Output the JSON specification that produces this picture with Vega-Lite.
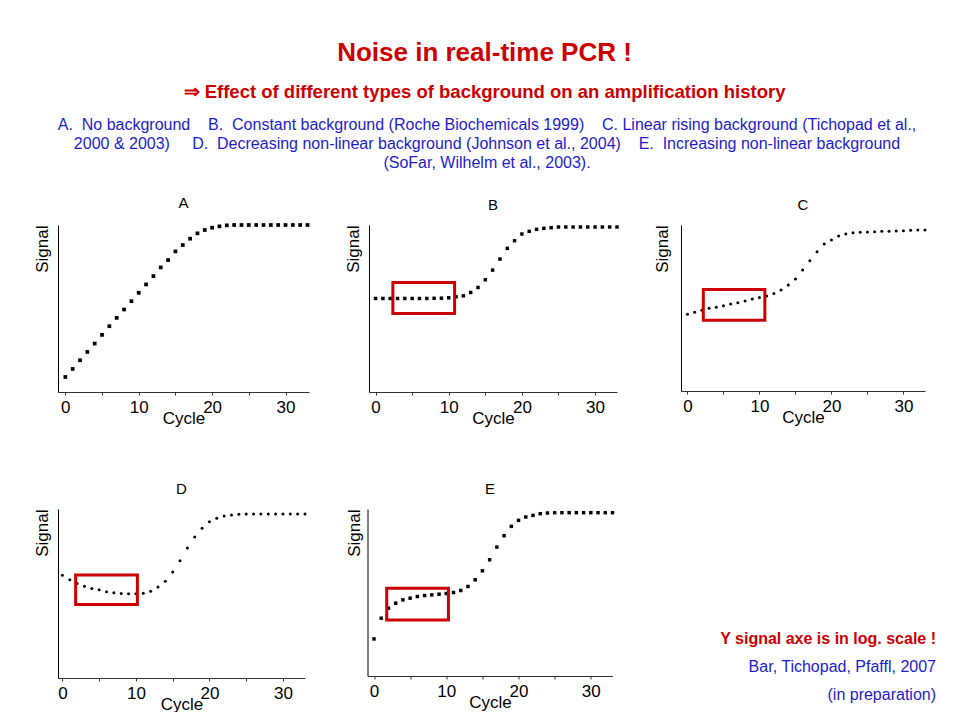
{
  "$schema": "https://vega.github.io/schema/vega-lite/v6.json",
  "padding": {"left": 32, "top": 39, "right": 0, "bottom": 0},
  "background": "white",
  "spacing": 56,
  "title": {
    "text": "Noise in real-time PCR !",
    "subtitle": "⇒ Effect of different types of background on an amplification history",
    "font": "Liberation Sans",
    "fontSize": 26,
    "fontWeight": "bold",
    "color": "#cc0000",
    "subtitleFont": "Liberation Sans",
    "subtitleFontSize": 18.5,
    "subtitleFontWeight": "bold",
    "subtitleColor": "#cc0000",
    "subtitlePadding": 17,
    "anchor": "middle",
    "offset": 14
  },
  "datasets": {
    "header": [
      {"line": 1, "text": "A.\u00a0 No background\u00a0\u00a0\u00a0 B.\u00a0 Constant background (Roche Biochemicals 1999)\u00a0\u00a0\u00a0 C. Linear rising background (Tichopad et al.,"},
      {"line": 2, "text": "2000 & 2003)\u00a0\u00a0\u00a0\u00a0 D.\u00a0 Decreasing non-linear background (Johnson et al., 2004)\u00a0\u00a0\u00a0 E.\u00a0 Increasing non-linear background"},
      {"line": 3, "text": "(SoFar, Wilhelm et al., 2003)."}
    ],
    "footer": [
      {"line": 1, "kind": "note", "text": "Y signal axe is in log. scale !"},
      {"line": 2, "kind": "ref", "text": "Bar, Tichopad, Pfaffl, 2007"},
      {"line": 3, "kind": "ref", "text": "(in preparation)"}
    ],
    "boxes": [
      {"panel": "B", "c1": 2.36, "c2": 10.8, "s1": 47, "s2": 65.6},
      {"panel": "C", "c1": 2.2, "c2": 10.75, "s1": 42.6, "s2": 61.2},
      {"panel": "D", "c1": 1.8, "c2": 10.2, "s1": 43.5, "s2": 61},
      {"panel": "E", "c1": 1.76, "c2": 10.3, "s1": 33.6, "s2": 52.6}
    ],
    "curves": [
      {"panel":"A","cycle":0,"signal":9.0},{"panel":"A","cycle":1,"signal":13.8},{"panel":"A","cycle":2,"signal":19.0},{"panel":"A","cycle":3,"signal":24.0},{"panel":"A","cycle":4,"signal":29.0},{"panel":"A","cycle":5,"signal":34.2},{"panel":"A","cycle":6,"signal":39.4},{"panel":"A","cycle":7,"signal":44.4},{"panel":"A","cycle":8,"signal":49.4},{"panel":"A","cycle":9,"signal":54.4},{"panel":"A","cycle":10,"signal":59.4},{"panel":"A","cycle":11,"signal":64.4},{"panel":"A","cycle":12,"signal":69.4},{"panel":"A","cycle":13,"signal":74.6},{"panel":"A","cycle":14,"signal":79.0},{"panel":"A","cycle":15,"signal":84.2},{"panel":"A","cycle":16,"signal":88.0},{"panel":"A","cycle":17,"signal":91.8},{"panel":"A","cycle":18,"signal":95.0},{"panel":"A","cycle":19,"signal":97.0},{"panel":"A","cycle":20,"signal":98.4},{"panel":"A","cycle":21,"signal":99.2},{"panel":"A","cycle":22,"signal":99.8},{"panel":"A","cycle":23,"signal":100},{"panel":"A","cycle":24,"signal":100},{"panel":"A","cycle":25,"signal":100},{"panel":"A","cycle":26,"signal":100},{"panel":"A","cycle":27,"signal":100},{"panel":"A","cycle":28,"signal":100},{"panel":"A","cycle":29,"signal":100},{"panel":"A","cycle":30,"signal":100},{"panel":"A","cycle":31,"signal":100},{"panel":"A","cycle":32,"signal":100},{"panel":"A","cycle":33,"signal":100},
      {"panel":"B","cycle":0,"signal":56.0},{"panel":"B","cycle":1,"signal":56.0},{"panel":"B","cycle":2,"signal":56.0},{"panel":"B","cycle":3,"signal":56.0},{"panel":"B","cycle":4,"signal":56.0},{"panel":"B","cycle":5,"signal":56.0},{"panel":"B","cycle":6,"signal":56.0},{"panel":"B","cycle":7,"signal":56.0},{"panel":"B","cycle":8,"signal":56.1},{"panel":"B","cycle":9,"signal":56.2},{"panel":"B","cycle":10,"signal":56.4},{"panel":"B","cycle":11,"signal":57.0},{"panel":"B","cycle":12,"signal":57.6},{"panel":"B","cycle":13,"signal":59.6},{"panel":"B","cycle":14,"signal":62.6},{"panel":"B","cycle":15,"signal":67.2},{"panel":"B","cycle":16,"signal":73.0},{"panel":"B","cycle":17,"signal":79.6},{"panel":"B","cycle":18,"signal":86.0},{"panel":"B","cycle":19,"signal":90.6},{"panel":"B","cycle":20,"signal":94.6},{"panel":"B","cycle":21,"signal":96.2},{"panel":"B","cycle":22,"signal":97.4},{"panel":"B","cycle":23,"signal":98.0},{"panel":"B","cycle":24,"signal":98.4},{"panel":"B","cycle":25,"signal":98.8},{"panel":"B","cycle":26,"signal":98.8},{"panel":"B","cycle":27,"signal":98.8},{"panel":"B","cycle":28,"signal":98.8},{"panel":"B","cycle":29,"signal":98.8},{"panel":"B","cycle":30,"signal":98.8},{"panel":"B","cycle":31,"signal":98.8},{"panel":"B","cycle":32,"signal":98.8},{"panel":"B","cycle":33,"signal":98.8},
      {"panel":"C","cycle":0,"signal":46.2},{"panel":"C","cycle":1,"signal":47.4},{"panel":"C","cycle":2,"signal":48.6},{"panel":"C","cycle":3,"signal":49.8},{"panel":"C","cycle":4,"signal":50.4},{"panel":"C","cycle":5,"signal":51.4},{"panel":"C","cycle":6,"signal":52.4},{"panel":"C","cycle":7,"signal":53.2},{"panel":"C","cycle":8,"signal":54.2},{"panel":"C","cycle":9,"signal":55.4},{"panel":"C","cycle":10,"signal":56.4},{"panel":"C","cycle":11,"signal":57.2},{"panel":"C","cycle":12,"signal":58.8},{"panel":"C","cycle":13,"signal":60.8},{"panel":"C","cycle":14,"signal":63.9},{"panel":"C","cycle":15,"signal":67.5},{"panel":"C","cycle":16,"signal":72.9},{"panel":"C","cycle":17,"signal":78.5},{"panel":"C","cycle":18,"signal":83.9},{"panel":"C","cycle":19,"signal":88.6},{"panel":"C","cycle":20,"signal":91.0},{"panel":"C","cycle":21,"signal":93.4},{"panel":"C","cycle":22,"signal":94.6},{"panel":"C","cycle":23,"signal":95.4},{"panel":"C","cycle":24,"signal":95.6},{"panel":"C","cycle":25,"signal":95.8},{"panel":"C","cycle":26,"signal":96.0},{"panel":"C","cycle":27,"signal":96.2},{"panel":"C","cycle":28,"signal":96.2},{"panel":"C","cycle":29,"signal":96.4},{"panel":"C","cycle":30,"signal":96.6},{"panel":"C","cycle":31,"signal":96.8},{"panel":"C","cycle":32,"signal":97.0},{"panel":"C","cycle":33,"signal":97.0},
      {"panel":"D","cycle":0,"signal":60.8},{"panel":"D","cycle":1,"signal":58.2},{"panel":"D","cycle":2,"signal":55.9},{"panel":"D","cycle":3,"signal":54.3},{"panel":"D","cycle":4,"signal":52.9},{"panel":"D","cycle":5,"signal":52.2},{"panel":"D","cycle":6,"signal":51.0},{"panel":"D","cycle":7,"signal":50.4},{"panel":"D","cycle":8,"signal":50.0},{"panel":"D","cycle":9,"signal":49.8},{"panel":"D","cycle":10,"signal":49.8},{"panel":"D","cycle":11,"signal":50.2},{"panel":"D","cycle":12,"signal":51.4},{"panel":"D","cycle":13,"signal":53.9},{"panel":"D","cycle":14,"signal":57.3},{"panel":"D","cycle":15,"signal":62.7},{"panel":"D","cycle":16,"signal":69.4},{"panel":"D","cycle":17,"signal":76.9},{"panel":"D","cycle":18,"signal":83.5},{"panel":"D","cycle":19,"signal":88.6},{"panel":"D","cycle":20,"signal":92.5},{"panel":"D","cycle":21,"signal":94.5},{"panel":"D","cycle":22,"signal":95.9},{"panel":"D","cycle":23,"signal":96.5},{"panel":"D","cycle":24,"signal":96.9},{"panel":"D","cycle":25,"signal":97.1},{"panel":"D","cycle":26,"signal":97.1},{"panel":"D","cycle":27,"signal":97.1},{"panel":"D","cycle":28,"signal":97.1},{"panel":"D","cycle":29,"signal":97.1},{"panel":"D","cycle":30,"signal":97.1},{"panel":"D","cycle":31,"signal":97.1},{"panel":"D","cycle":32,"signal":97.1},{"panel":"D","cycle":33,"signal":97.1},
      {"panel":"E","cycle":0,"signal":22.2},{"panel":"E","cycle":1,"signal":34.6},{"panel":"E","cycle":2,"signal":40.6},{"panel":"E","cycle":3,"signal":43.6},{"panel":"E","cycle":4,"signal":45.6},{"panel":"E","cycle":5,"signal":46.6},{"panel":"E","cycle":6,"signal":47.6},{"panel":"E","cycle":7,"signal":48.2},{"panel":"E","cycle":8,"signal":48.6},{"panel":"E","cycle":9,"signal":49.0},{"panel":"E","cycle":10,"signal":49.4},{"panel":"E","cycle":11,"signal":50.0},{"panel":"E","cycle":12,"signal":51.2},{"panel":"E","cycle":13,"signal":53.6},{"panel":"E","cycle":14,"signal":57.6},{"panel":"E","cycle":15,"signal":63.0},{"panel":"E","cycle":16,"signal":69.6},{"panel":"E","cycle":17,"signal":77.2},{"panel":"E","cycle":18,"signal":84.0},{"panel":"E","cycle":19,"signal":89.6},{"panel":"E","cycle":20,"signal":93.2},{"panel":"E","cycle":21,"signal":95.2},{"panel":"E","cycle":22,"signal":96.2},{"panel":"E","cycle":23,"signal":97.2},{"panel":"E","cycle":24,"signal":97.6},{"panel":"E","cycle":25,"signal":97.8},{"panel":"E","cycle":26,"signal":97.8},{"panel":"E","cycle":27,"signal":97.8},{"panel":"E","cycle":28,"signal":97.8},{"panel":"E","cycle":29,"signal":97.8},{"panel":"E","cycle":30,"signal":97.8},{"panel":"E","cycle":31,"signal":97.8},{"panel":"E","cycle":32,"signal":97.8},{"panel":"E","cycle":33,"signal":97.8}
    ]
  },
  "config": {
    "font": "Liberation Sans",
    "view": {"stroke": null},
    "axisX": {
      "values": [0, 5, 10, 15, 20, 25, 30],
      "labelExpr": "datum.value % 10 === 0 ? datum.label : ''",
      "grid": false,
      "tickSize": 3,
      "tickColor": "#333333",
      "domainColor": "#333333",
      "labelFontSize": 17,
      "labelColor": "black",
      "labelPadding": 4,
      "labelOverlap": false,
      "labelFlush": false,
      "titleFontSize": 17,
      "titleFontWeight": "normal",
      "titleColor": "black",
      "titlePadding": -5
    },
    "axisY": {
      "titleAnchor": "end",
      "labels": false,
      "ticks": false,
      "grid": false,
      "domainColor": "black",
      "titleFontSize": 17,
      "titleFontWeight": "normal",
      "titleColor": "black",
      "titlePadding": 7
    }
  },
  "vconcat": [
    {
      "spacing": 24,
      "vconcat": [
        {
          "width": 858,
          "height": 57,
          "data": {"name": "header"},
          "mark": {"type": "text", "fontSize": 16, "color": "#1c1ccc", "align": "center", "baseline": "middle"},
          "encoding": {
            "x": {"datum": 0.5, "type": "quantitative", "scale": {"domain": [0, 1]}, "axis": null},
            "y": {"field": "line", "type": "ordinal", "axis": null},
            "text": {"field": "text"}
          }
        },
        {
          "spacing": 33,
          "hconcat": [
            {
              "title": {"text": "A", "fontSize": 15, "fontWeight": "normal", "color": "black", "offset": 12},
              "width": 251, "height": 167,
              "data": {"name": "curves"},
              "transform": [{"filter": "datum.panel === 'A'"}],
              "mark": {"type": "point", "shape": "square", "filled": true, "size": 14, "color": "black", "opacity": 1, "clip": false},
              "encoding": {
                "x": {"field": "cycle", "type": "quantitative", "scale": {"domain": [-1, 33.2], "nice": false, "zero": false}, "axis": {"title": "Cycle"}},
                "y": {"field": "signal", "type": "quantitative", "scale": {"domain": [0, 100], "nice": false}, "axis": {"title": "Signal"}}
              }
            },
            {
              "title": {"text": "B", "fontSize": 15, "fontWeight": "normal", "color": "black", "offset": 12},
              "width": 248, "height": 167,
              "layer": [
                {
                  "data": {"name": "curves"},
                  "transform": [{"filter": "datum.panel === 'B'"}],
                  "mark": {"type": "point", "shape": "square", "filled": true, "size": 12, "color": "black", "opacity": 1, "clip": false},
                  "encoding": {
                    "x": {"field": "cycle", "type": "quantitative", "scale": {"domain": [-0.9, 33.0], "nice": false, "zero": false}, "axis": {"title": "Cycle"}},
                    "y": {"field": "signal", "type": "quantitative", "scale": {"domain": [0, 100], "nice": false}, "axis": {"title": "Signal"}}
                  }
                },
                {
                  "data": {"name": "boxes"},
                  "transform": [{"filter": "datum.panel === 'B'"}],
                  "mark": {"type": "rect", "fillOpacity": 0, "stroke": "#cc0000", "strokeWidth": 3},
                  "encoding": {
                    "x": {"field": "c1", "type": "quantitative", "axis": {"title": "Cycle"}},
                    "x2": {"field": "c2"},
                    "y": {"field": "s1", "type": "quantitative", "axis": {"title": "Signal"}},
                    "y2": {"field": "s2"}
                  }
                }
              ]
            },
            {
              "title": {"text": "C", "fontSize": 15, "fontWeight": "normal", "color": "black", "offset": 12},
              "width": 244, "height": 166,
              "layer": [
                {
                  "data": {"name": "curves"},
                  "transform": [{"filter": "datum.panel === 'C'"}],
                  "mark": {"type": "point", "shape": "circle", "filled": true, "size": 9, "color": "black", "opacity": 1, "clip": false},
                  "encoding": {
                    "x": {"field": "cycle", "type": "quantitative", "scale": {"domain": [-0.9, 33.0], "nice": false, "zero": false}, "axis": {"title": "Cycle"}},
                    "y": {"field": "signal", "type": "quantitative", "scale": {"domain": [0, 100], "nice": false}, "axis": {"title": "Signal", "titlePadding": 10}}
                  }
                },
                {
                  "data": {"name": "boxes"},
                  "transform": [{"filter": "datum.panel === 'C'"}],
                  "mark": {"type": "rect", "fillOpacity": 0, "stroke": "#cc0000", "strokeWidth": 3},
                  "encoding": {
                    "x": {"field": "c1", "type": "quantitative", "axis": {"title": "Cycle"}},
                    "x2": {"field": "c2"},
                    "y": {"field": "s1", "type": "quantitative", "axis": {"title": "Signal", "titlePadding": 10}},
                    "y2": {"field": "s2"}
                  }
                }
              ]
            }
          ]
        }
      ]
    },
    {
      "spacing": 37.5,
      "hconcat": [
        {
          "title": {"text": "D", "fontSize": 15, "fontWeight": "normal", "color": "black", "offset": 12},
          "width": 247, "height": 169,
          "layer": [
            {
              "data": {"name": "curves"},
              "transform": [{"filter": "datum.panel === 'D'"}],
              "mark": {"type": "point", "shape": "circle", "filled": true, "size": 9, "color": "black", "opacity": 1, "clip": false},
              "encoding": {
                "x": {"field": "cycle", "type": "quantitative", "scale": {"domain": [-0.6, 33.0], "nice": false, "zero": false}, "axis": {"title": "Cycle"}},
                "y": {"field": "signal", "type": "quantitative", "scale": {"domain": [0, 100], "nice": false}, "axis": {"title": "Signal"}}
              }
            },
            {
              "data": {"name": "boxes"},
              "transform": [{"filter": "datum.panel === 'D'"}],
              "mark": {"type": "rect", "fillOpacity": 0, "stroke": "#cc0000", "strokeWidth": 3},
              "encoding": {
                "x": {"field": "c1", "type": "quantitative", "axis": {"title": "Cycle"}},
                "x2": {"field": "c2"},
                "y": {"field": "s1", "type": "quantitative", "axis": {"title": "Signal"}},
                "y2": {"field": "s2"}
              }
            }
          ]
        },
        {
          "title": {"text": "E", "fontSize": 15, "fontWeight": "normal", "color": "black", "offset": 12},
          "width": 245, "height": 167,
          "layer": [
            {
              "data": {"name": "curves"},
              "transform": [{"filter": "datum.panel === 'E'"}],
              "mark": {"type": "point", "shape": "square", "filled": true, "size": 12, "color": "black", "opacity": 1, "clip": false},
              "encoding": {
                "x": {"field": "cycle", "type": "quantitative", "scale": {"domain": [-0.9, 33.0], "nice": false, "zero": false}, "axis": {"title": "Cycle"}},
                "y": {"field": "signal", "type": "quantitative", "scale": {"domain": [0, 100], "nice": false}, "axis": {"title": "Signal", "titlePadding": 4}}
              }
            },
            {
              "data": {"name": "boxes"},
              "transform": [{"filter": "datum.panel === 'E'"}],
              "mark": {"type": "rect", "fillOpacity": 0, "stroke": "#cc0000", "strokeWidth": 3},
              "encoding": {
                "x": {"field": "c1", "type": "quantitative", "axis": {"title": "Cycle"}},
                "x2": {"field": "c2"},
                "y": {"field": "s1", "type": "quantitative", "axis": {"title": "Signal", "titlePadding": 4}},
                "y2": {"field": "s2"}
              }
            }
          ]
        },
        {
          "width": 284,
          "height": 186,
          "data": {"name": "footer"},
          "layer": [
            {
              "transform": [{"filter": "datum.kind === 'note'"}],
              "mark": {"type": "text", "fontSize": 16, "fontWeight": "bold", "color": "#cc0000", "align": "right", "baseline": "middle"},
              "encoding": {
                "x": {"datum": 1, "type": "quantitative", "scale": {"domain": [0, 1]}, "axis": null},
                "y": {"field": "line", "type": "quantitative", "axis": null, "scale": {"domain": [-3.643, 3], "reverse": true, "nice": false, "zero": false}},
                "text": {"field": "text"}
              }
            },
            {
              "transform": [{"filter": "datum.kind === 'ref'"}],
              "mark": {"type": "text", "fontSize": 16, "color": "#1c1ccc", "align": "right", "baseline": "middle"},
              "encoding": {
                "x": {"datum": 1, "type": "quantitative", "scale": {"domain": [0, 1]}, "axis": null},
                "y": {"field": "line", "type": "quantitative", "axis": null, "scale": {"domain": [-3.643, 3], "reverse": true, "nice": false, "zero": false}},
                "text": {"field": "text"}
              }
            }
          ]
        }
      ]
    }
  ]
}
